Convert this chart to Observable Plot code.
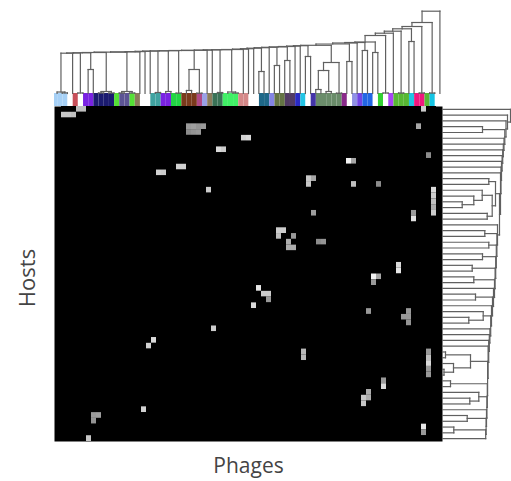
<!DOCTYPE html>
<html><head><meta charset="utf-8">
<script src="https://cdn.jsdelivr.net/npm/d3@7"></script>
<script src="https://cdn.jsdelivr.net/npm/@observablehq/plot@0.6"></script>
<style>
body{margin:0;background:#fff;}
#chart{position:relative;width:511px;height:481px;overflow:hidden;background:#fff;}
#chart svg{position:absolute;left:0;top:0;}
</style></head><body><div id="chart"></div>
<script>
// ---------- data ----------
const nCols = 75, nRows = 58;
const hitRow = [0,0, 1,1,1, 3,3,3,3, 4,4,4, 5,5, 7,7, 10,10, 11,11, 14, 0, 3, 8, 9,9, 12,12,13, 13, 13, 18, 18,19, 14,15,16,17,18, 38, 21,21,22, 22, 23,24,24, 23,23, 27,28, 29,29,30, 31, 32,32,33, 34, 35, 35,36,37,36, 40,41, 52, 53,53,54, 57, 42,43, 42,43,44,45,46, 47,48, 49,50, 50,51, 55,56];
const hitCol = [3,4, 0,1,2, 25,26,27,28, 25,26,27, 36,37, 31,32, 23,24, 19,20, 29, 72, 71, 73, 57,58, 49,50,49, 58, 63, 50, 70,70, 74,74,74,74,74, 30, 43,44,43, 46, 45,45,46, 51,52, 67,67, 62,63,62, 39, 40,41,41, 38, 61, 69,69,69,68, 18,17, 16, 6,7,6, 5, 48,48, 73,73,73,73,73, 64,64, 61,61, 60,60, 72,72];
const hitVal = [0.75,0.75, 0.78,0.78,0.75, 0.6,0.62,0.58,0.6, 0.55,0.58,0.6, 0.82,0.85, 0.85,0.8, 0.82,0.82, 0.82,0.8, 0.8, 0.8, 0.65, 0.55, 0.95,0.65, 0.78,0.65,0.78, 0.75, 0.55, 0.62, 0.6,0.88, 0.85,0.8,0.75,0.68,0.8, 0.8, 0.8,0.8,0.75, 0.6, 0.68,0.68,0.68, 0.55,0.58, 0.85,0.9, 0.95,0.65,0.6, 0.9, 0.8,0.8,0.6, 0.85, 0.6, 0.6,0.6,0.58,0.6, 0.85,0.82, 0.82, 0.6,0.62,0.58, 0.78, 0.72,0.72, 0.6,0.75,0.85,0.6,0.6, 0.6,0.85, 0.68,0.68, 0.78,0.78, 0.9,0.6];

const colColors = ["#a6d0f6","#a6d0f6","#a6d0f6","#ffffff","#c8505a","#ffffff","#7a22e2","#7a22e2",
  "#1b1b70","#1b1b70","#1b1b70","#1b1b70","#55e036","#5c5494","#5c5494","#55e036","#8b7b5b","#ffffff","#ffffff",
  "#3fa2a0","#3fa2a0","#7a22e2","#7a22e2","#22d444","#22d444","#7a3a1c","#7a3a1c","#7a3a1c","#b04a88","#9aa0e6",
  "#8b7b5b","#3a7256","#3a7256","#40f066","#40f066","#40f066","#d48888","#d48888","#ffffff","#ffffff","#1f6888",
  "#1f6888","#8484e4","#647444","#647444","#513a64","#513a64","#2a2ac4","#22c4e4","#ffffff","#4434a8","#6a8c6a",
  "#6a8c6a","#6a8c6a","#6a8c6a","#6a8c6a","#8a2a8a","#ffffff","#9090e4","#7044e4","#2266e4","#2266e4","#ffffff",
  "#33d033","#ffffff","#a844f4","#58b834","#58b834","#58b834","#22c4e4","#f0187e","#f0187e","#58b834","#14c4e4","#ffffff"];

// column dendrogram: subtrees [left, right, height] attached left-to-right along a chain
const colGroups = [[0,[1,2,0.6],1.5], 3, [4,5,0.5], [6,7,24], [[8,9,0.5],[10,11,0.5],2], [[12,13,0.5],[14,15,0.5],2],
  16, 17, 18, [19,20,1], [21,22,2], [23,24,0.4], [[25,26,3],[27,28,0.3],24], 29, 30, [31,32,1], [33,[34,35,0.5],1.5],
  36, 37, 38, [39,40,22], 41, [42,43,28], [44,45,33], 46, 47, [48,49,37], [[[50,51,4],[52,53,2],23],[54,55,0.3],31],
  [56,57,32], 58, [59,60,43], [61,62,41], [63,64,0.5], 65, [66,67,0.5], [68,69,52], [70,71,0.5], [72,73,0.5], 74];
const colChainH = [40.3,40.5,40.7,41.0,41.3,41.6,41.9,42.2,42.4,42.6,42.8,43.0,43.2,43.4,43.6,43.8,44.0,44.4,44.8,
  45.3,45.8,46.2,46.6,47.0,47.4,47.8,48.2,49.5,50.5,51.0,51.5,58.0,60.3,62.3,64.7,67.0,71.0,82.3];

// row dendrogram: subtrees attached top-to-bottom along a spine
const rowGroups = [0, 1, 2, [3,4,40], 5, 6, 7, 8, 9, 10, 11,
  [[12,13,46.3], [[14,[15,[16,17,19.7],31.3],39.7],[18,19,44.7],49.7], 53],
  20, [21,22,42.3], [23,24,46.3], [25,26,40], [27,28,29.7], [29,30,31.3], 31, [32,33,33], 34,
  [35,[36,37,26.3],40.7], 38, 39, 40, 41, [[42,43,3],[44,[45,46,1.5],11],28], [47,48,8],
  [49,[50,51,27.3],36.3], 52, [53,54,24.7], [55,56,11.3], 57];
const rowSpineH = [68,65,63.5,62.3,61.5,60.8,60.2,59.6,59.0,58.5,58.0,57.0,55.0,54.4,53.8,53.2,52.6,52.0,51.0,
  50.0,49.0,48.2,47.4,46.8,46.2,45.6,45.1,44.8,44.4,44.0,43.6,43.2];

const xLabel = "Phages", yLabel = "Hosts";

// ---------- build ----------
const hitMap = new Map(hitRow.map((r, i) => [r + "," + hitCol[i], hitVal[i]]));
const cells = [];
for (let r = 0; r < nRows; r++) for (let c = 0; c < nCols; c++)
  cells.push({row: r, col: c, v: hitMap.get(r + "," + c) ?? 0});

function layout(node, segs) {
  if (typeof node === "number") return {p: node + 0.5, h: 0};
  const [a, b, h] = node;
  const A = layout(a, segs), B = layout(b, segs);
  segs.push({p1: A.p, h1: A.h, p2: A.p, h2: h});
  segs.push({p1: B.p, h1: B.h, p2: B.p, h2: h});
  segs.push({p1: A.p, h1: h, p2: B.p, h2: h});
  return {p: (A.p + B.p) / 2, h};
}
let colTree = colGroups[0];
for (let k = 1; k < colGroups.length; k++) colTree = [colTree, colGroups[k], colChainH[k - 1]];
const colSegs = []; layout(colTree, colSegs);

const nG = rowGroups.length;
let rowTree = [rowGroups[nG - 2], rowGroups[nG - 1], rowSpineH[nG - 2]];
for (let k = nG - 3; k >= 0; k--) rowTree = [rowGroups[k], rowTree, rowSpineH[k]];
const rowSegs = []; layout(rowTree, rowSegs);

const colBar = colColors.map((c, i) => ({i, c}));
const font = "'Open Sans', 'Noto Sans', sans-serif";
const W = 511, H = 481;
const overlay = "background: transparent; overflow: visible;";
const lineStroke = "#606060";

const heatPlot = Plot.plot({
  width: W, height: H,
  marginLeft: 54, marginRight: 69, marginTop: 106, marginBottom: 40,
  style: {fontFamily: font, background: "white"},
  x: {type: "band", domain: d3.range(nCols), padding: 0, axis: null},
  y: {type: "band", domain: d3.range(nRows), padding: 0, axis: null},
  color: {type: "linear", domain: [0, 1], range: ["#000000", "#ffffff"]},
  marks: [
    Plot.frame({fill: "black", stroke: null}),
    Plot.cell(cells, {x: "col", y: "row", fill: "v", inset: 0}),
    Plot.text([xLabel], {frameAnchor: "bottom", textAnchor: "middle", lineAnchor: "middle", dy: 25, fontSize: 21, fill: "#444", text: d => d}),
    Plot.text([yLabel], {frameAnchor: "left", textAnchor: "middle", lineAnchor: "middle", dx: -27, dy: 4, rotate: -90, fontSize: 22, fill: "#444", text: d => d})
  ]
});

const topPlot = Plot.plot({
  width: W, height: H,
  marginLeft: 54, marginRight: 69, marginTop: 10.7, marginBottom: 375,
  style: overlay,
  x: {type: "linear", domain: [0, nCols], axis: null},
  y: {type: "linear", domain: [-13, 82.3], axis: null},
  color: {type: "identity"},
  marks: [
    Plot.rect(colBar, {x1: d => d.i, x2: d => d.i + 1, y1: -13, y2: 0, fill: "c", dx: -2, clip: true}),
    Plot.link(colSegs, {x1: "p1", y1: "h1", x2: "p2", y2: "h2", stroke: lineStroke, strokeWidth: 1.2, strokeLinecap: "square"})
  ]
});

const rightPlot = Plot.plot({
  width: W, height: H,
  marginLeft: 442, marginRight: 0, marginTop: 106, marginBottom: 40,
  style: overlay,
  x: {type: "linear", domain: [0, 69], axis: null},
  y: {type: "linear", domain: [0, nRows], reverse: true, axis: null},
  marks: [
    Plot.link(rowSegs, {x1: "h1", y1: "p1", x2: "h2", y2: "p2", stroke: lineStroke, strokeWidth: 1.2, strokeLinecap: "square"})
  ]
});

document.getElementById("chart").append(heatPlot, topPlot, rightPlot);
</script></body></html>
